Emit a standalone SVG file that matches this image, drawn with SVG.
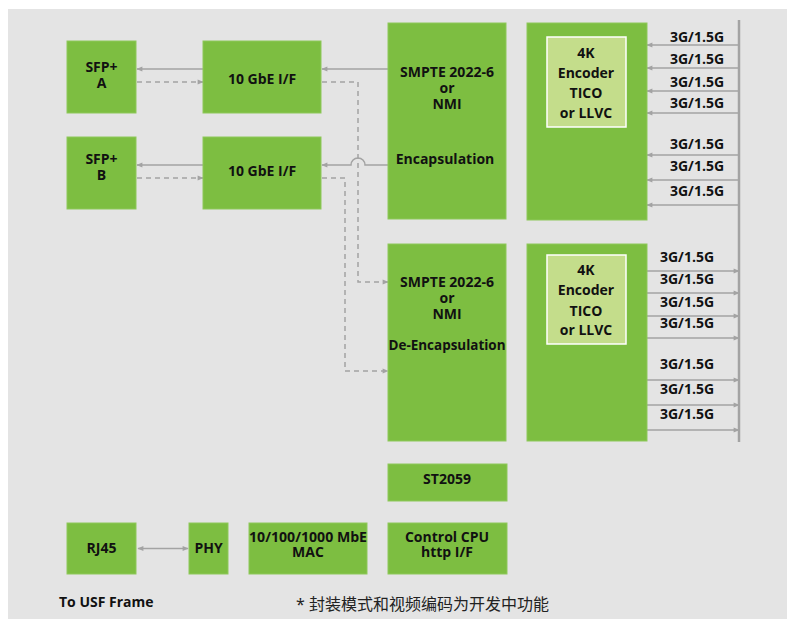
<svg xmlns="http://www.w3.org/2000/svg" width="787" height="619" viewBox="0 0 787 619">
<defs>
<marker id="ah" viewBox="0 0 10 10" refX="9" refY="5" markerWidth="9" markerHeight="6" markerUnits="userSpaceOnUse" orient="auto-start-reverse">
<path d="M0,1 L10,5 L0,9 z" fill="#a3a3a3"/>
</marker>
<style>
.n{fill:#7dbe41;stroke:#8ec85a;stroke-width:1}
.in{fill:#c4dd8b;stroke:#ffffff;stroke-width:1.5}
.t{font-family:"Open Sans","Noto Sans",sans-serif;font-weight:bold;font-size:14px;fill:#111;text-anchor:middle;dominant-baseline:central}
.l{fill:none;stroke:#a3a3a3;stroke-width:1.5}
.d{fill:none;stroke:#a3a3a3;stroke-width:1.5;stroke-dasharray:5,4}
</style>
</defs>
<rect x="0" y="0" width="787" height="619" fill="#ffffff"/>
<rect x="8" y="9" width="779" height="610" fill="#e4e4e4"/>

<g id="connectors">
<line class="l" x1="388" y1="69" x2="322" y2="69" marker-end="url(#ah)"/>
<line class="l" x1="203" y1="69" x2="137" y2="69" marker-end="url(#ah)"/>
<line class="d" x1="137" y1="82" x2="203" y2="82" marker-end="url(#ah)"/>
<path class="l" d="M388,165 L365,165 A7,7 0 0 0 351,165 L322,165" marker-end="url(#ah)"/>
<line class="l" x1="203" y1="165" x2="137" y2="165" marker-end="url(#ah)"/>
<line class="d" x1="137" y1="178" x2="203" y2="178" marker-end="url(#ah)"/>
<path class="d" d="M322,82 L358,82 L358,282 L388,282" marker-end="url(#ah)"/>
<path class="d" d="M322,178 L345,178 L345,371 L388,371" marker-end="url(#ah)"/>
<line x1="739" y1="20" x2="739" y2="442" stroke="#a3a3a3" stroke-width="2.5"/>
<line class="l" x1="739" y1="45" x2="647" y2="45" marker-end="url(#ah)"/>
<line class="l" x1="739" y1="68" x2="647" y2="68" marker-end="url(#ah)"/>
<line class="l" x1="739" y1="91" x2="647" y2="91" marker-end="url(#ah)"/>
<line class="l" x1="739" y1="113" x2="647" y2="113" marker-end="url(#ah)"/>
<line class="l" x1="739" y1="155" x2="647" y2="155" marker-end="url(#ah)"/>
<line class="l" x1="739" y1="180" x2="647" y2="180" marker-end="url(#ah)"/>
<line class="l" x1="739" y1="205" x2="647" y2="205" marker-end="url(#ah)"/>
<line class="l" x1="647" y1="271" x2="739" y2="271" marker-end="url(#ah)"/>
<line class="l" x1="647" y1="293" x2="739" y2="293" marker-end="url(#ah)"/>
<line class="l" x1="647" y1="316" x2="739" y2="316" marker-end="url(#ah)"/>
<line class="l" x1="647" y1="338" x2="739" y2="338" marker-end="url(#ah)"/>
<line class="l" x1="647" y1="380" x2="739" y2="380" marker-end="url(#ah)"/>
<line class="l" x1="647" y1="405" x2="739" y2="405" marker-end="url(#ah)"/>
<line class="l" x1="647" y1="430" x2="739" y2="430" marker-end="url(#ah)"/>
<line class="l" x1="138" y1="548.5" x2="188" y2="548.5" marker-start="url(#ah)" marker-end="url(#ah)"/>
</g>

<g id="labels" class="t">
<text x="697" y="36">3G/1.5G</text>
<text x="697" y="58">3G/1.5G</text>
<text x="697" y="81">3G/1.5G</text>
<text x="697" y="102">3G/1.5G</text>
<text x="697" y="143">3G/1.5G</text>
<text x="697" y="165">3G/1.5G</text>
<text x="697" y="190">3G/1.5G</text>
<text x="687" y="256">3G/1.5G</text>
<text x="687" y="278">3G/1.5G</text>
<text x="687" y="301">3G/1.5G</text>
<text x="687" y="322">3G/1.5G</text>
<text x="687" y="363">3G/1.5G</text>
<text x="687" y="388">3G/1.5G</text>
<text x="687" y="413">3G/1.5G</text>
</g>

<g id="sfpA"><rect class="n" x="67" y="41" width="69" height="72"/><text class="t" x="101.5" y="66">SFP+</text><text class="t" x="101.5" y="82">A</text></g>
<g id="sfpB"><rect class="n" x="67" y="137" width="69" height="72"/><text class="t" x="101.5" y="158">SFP+</text><text class="t" x="101.5" y="174">B</text></g>
<g id="gbeA"><rect class="n" x="203" y="41" width="118" height="72"/><text class="t" x="262" y="78">10 GbE I/F</text></g>
<g id="gbeB"><rect class="n" x="203" y="137" width="118" height="72"/><text class="t" x="262" y="170">10 GbE I/F</text></g>
<g id="encap"><rect class="n" x="388" y="23" width="118" height="196"/>
<text class="t" x="447" y="71">SMPTE 2022-6</text><text class="t" x="447" y="87">or</text><text class="t" x="447" y="103">NMI</text><text class="t" x="445" y="158">Encapsulation</text></g>
<g id="decap"><rect class="n" x="388" y="244" width="118" height="197"/>
<text class="t" x="447" y="281">SMPTE 2022-6</text><text class="t" x="447" y="297">or</text><text class="t" x="447" y="313">NMI</text><text class="t" x="447" y="344" textLength="117" lengthAdjust="spacingAndGlyphs">De-Encapsulation</text></g>
<g id="enc1"><rect class="n" x="527" y="23" width="120" height="197"/><rect class="in" x="547" y="37" width="79" height="90"/>
<text class="t" x="586" y="52">4K</text><text class="t" x="586" y="72">Encoder</text><text class="t" x="586" y="92">TICO</text><text class="t" x="586" y="112">or LLVC</text></g>
<g id="enc2"><rect class="n" x="527" y="244" width="120" height="197"/><rect class="in" x="547" y="255" width="79" height="89"/>
<text class="t" x="586" y="269">4K</text><text class="t" x="586" y="289">Encoder</text><text class="t" x="586" y="310">TICO</text><text class="t" x="586" y="329">or LLVC</text></g>
<g id="st2059"><rect class="n" x="388" y="464" width="119" height="37"/><text class="t" x="447" y="478">ST2059</text></g>
<g id="rj45"><rect class="n" x="67" y="523" width="69" height="51"/><text class="t" x="101.5" y="547">RJ45</text></g>
<g id="phy"><rect class="n" x="189" y="523" width="39" height="51"/><text class="t" x="208.5" y="547">PHY</text></g>
<g id="mac"><rect class="n" x="249" y="523" width="118" height="51"/><text class="t" x="308" y="536" textLength="118" lengthAdjust="spacingAndGlyphs">10/100/1000 MbE</text><text class="t" x="308" y="551">MAC</text></g>
<g id="cpu"><rect class="n" x="388" y="523" width="119" height="51"/><text class="t" x="447" y="536">Control CPU</text><text class="t" x="447" y="551">http I/F</text></g>

<text class="t" x="59" y="601" style="text-anchor:start">To USF Frame</text>
<text x="296" y="604" style="font-family:'Noto Sans','Noto Sans CJK SC',sans-serif;font-size:16px;fill:#222;dominant-baseline:central">* 封装模式和视频编码为开发中功能</text>
</svg>
